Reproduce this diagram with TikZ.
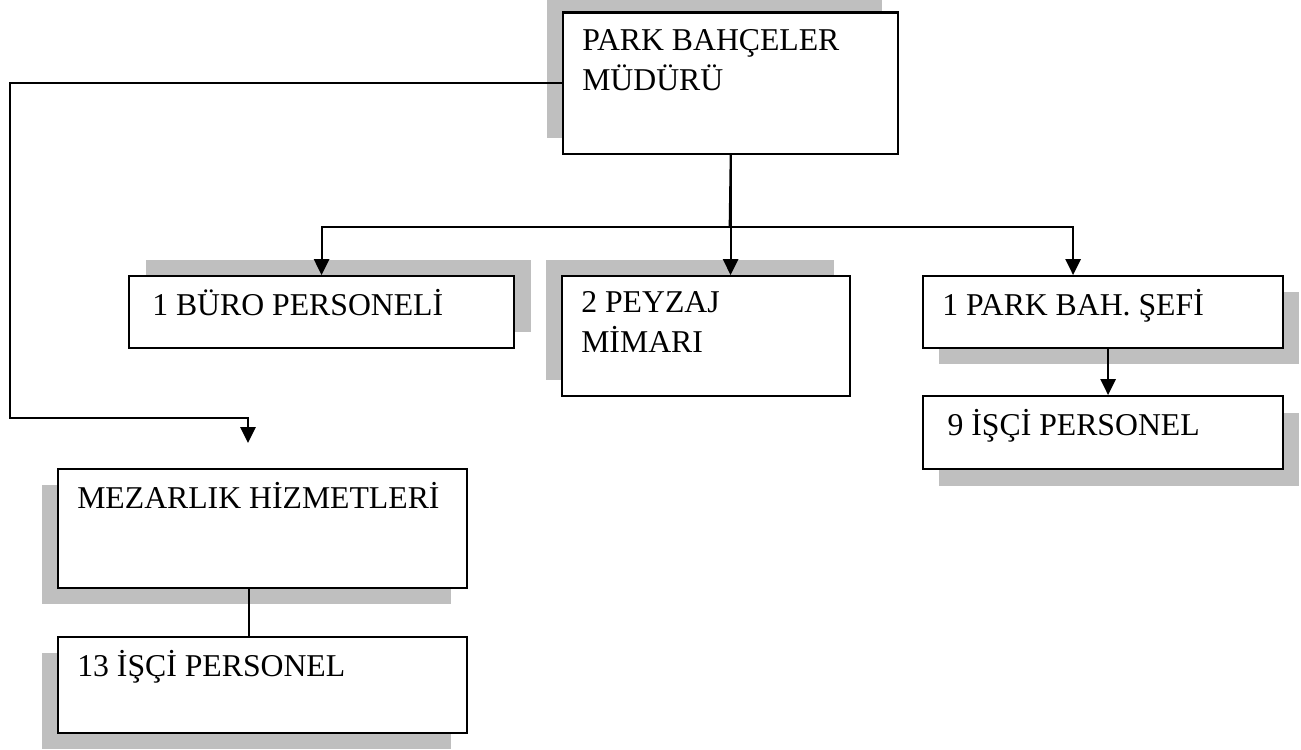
\documentclass[tikz,border=0pt]{standalone}
\usepackage{fontspec}
\setmainfont{Liberation Serif}
\usetikzlibrary{positioning, arrows.meta, shadows}
\tikzset{
    x=0.75pt, y=-0.75pt, % one unit is one pixel, y grows downwards
    every node/.style={font=\fontsize{23.8}{30}\selectfont},
    unit/.style={draw, line width=1.6pt, fill=white, anchor=north west, inner sep=0pt}, % the boxes
    backing/.style 2 args={general shadow={fill=gray!50, shadow xshift=#1, shadow yshift=#2}}, % gray plate behind a box
    tag/.style={anchor=north west, inner sep=0pt, align=left, text height=16pt, xshift=15pt, yshift=-14pt}, % text in a box
    twolines/.style={text height=46pt}, % baseline of a two-line text sits on its last line
}
\tikzstyle{arrow} = [line width=1.5pt, -{Triangle[length=12pt, width=11.5pt]}]
\tikzstyle{line} = [line width=1.3pt]

\begin{document}
\begin{tikzpicture}
    \path[fill=white, use as bounding box] (0,0) rectangle (1301,749);

    \node[unit, backing={-12pt}{12pt}, minimum width=251.25pt, minimum height=106.1pt,
        label={[tag, twolines, yshift=0.7pt]north west:PARK BAHÇELER\\MÜDÜRÜ}] (boss) at (562,11.5) {};
    \node[unit, backing={12.75pt}{12pt}, minimum width=288.75pt, minimum height=54pt,
        label={[tag, xshift=3pt]north west:1 BÜRO PERSONELİ}] (buro) at (128,275) {};
    \node[unit, backing={-12pt}{12pt}, minimum width=216pt, minimum height=90pt,
        label={[tag, twolines, yshift=2pt]north west:2 PEYZAJ\\MİMARI}] (peyzaj) at (561,275) {};
    \node[unit, backing={12pt}{-12pt}, minimum width=270pt, minimum height=54pt,
        label={[tag]north west:1 PARK BAH. ŞEFİ}] (sef) at (922,275) {};
    \node[unit, backing={12pt}{-12.75pt}, minimum width=270pt, minimum height=54.75pt,
        below=34.4pt of sef.south west, anchor=north west,
        label={[tag, xshift=4pt]north west:9 İŞÇİ PERSONEL}] (isci9) {};
    \node[unit, backing={-12pt}{-12pt}, minimum width=306.75pt, minimum height=89.25pt,
        label={[tag]north west:MEZARLIK HİZMETLERİ}] (mezar) at (57,468) {};
    \node[unit, backing={-12pt}{-12pt}, minimum width=306.75pt, minimum height=72pt,
        below=35.1pt of mezar.south west, anchor=north west,
        label={[tag]north west:13 İŞÇİ PERSONEL}] (isci13) {};

    % connectors
    \coordinate (bus) at (729.5,227);
    \coordinate (corner) at (9.5,418);
    \coordinate (mzend) at (248,443);
    \draw[line] (boss.south) -- (bus);
    \draw[arrow] (bus) -| (buro.north);
    \draw[arrow] (bus) -| ([xshift=-22.5pt]sef.north);
    \draw[arrow] (boss.south) -- (boss.south |- peyzaj.north);
    \draw[arrow] ([xshift=3.75pt]sef.south) -- ([xshift=3.75pt]isci9.north);
    \draw[line] ([xshift=-10pt]mezar.south) -- ([xshift=-10pt]mezar.south |- isci13.north);
    \draw[arrow] (boss.west) -| (corner) -| (mzend);
\end{tikzpicture}
\end{document}
